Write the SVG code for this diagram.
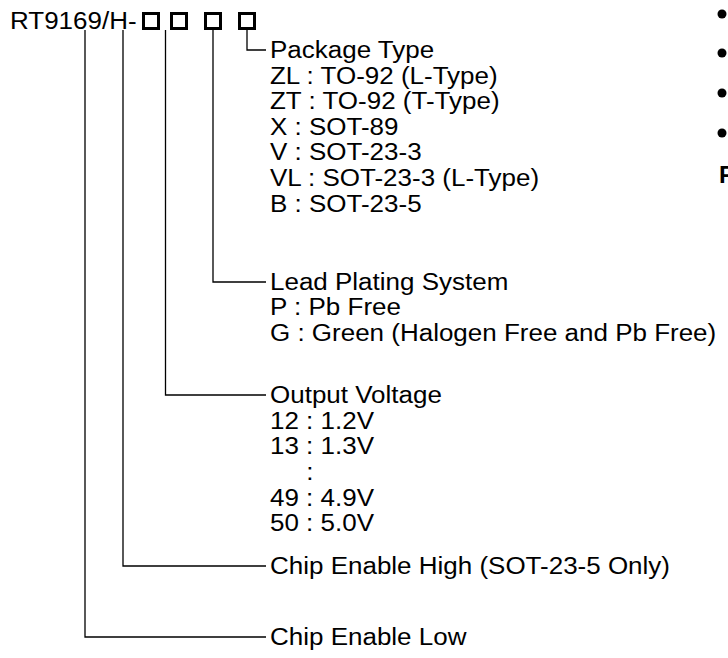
<svg xmlns="http://www.w3.org/2000/svg" width="728" height="658" viewBox="0 0 728 658">
<style>
text{font-family:"Liberation Sans",Arial,sans-serif;font-size:23px;fill:#000}
.c{fill:none;stroke:#000;stroke-width:1.3}
.b{fill:none;stroke:#000;stroke-width:3}
</style>
<rect width="728" height="658" fill="#fff"/>
<g id="part-number">
<text transform="translate(10 29) scale(1.13 1)">RT9169/H-</text>
<rect class="b" x="143.5" y="13.5" width="15" height="15"/>
<rect class="b" x="171.5" y="13.5" width="15" height="15"/>
<rect class="b" x="205.5" y="13.5" width="15" height="15"/>
<rect class="b" x="239.5" y="13.5" width="15" height="15"/>
</g>
<g id="connectors">
<path class="c" d="M85 30V637H266"/>
<path class="c" d="M123 30V566H266"/>
<path class="c" d="M165.5 30V395H266"/>
<path class="c" d="M213 30V282H266"/>
<path class="c" d="M247 30V50H266"/>
</g>
<g id="package-type" transform="translate(270 0) scale(1.13 1)">
<text x="0" y="58.5">Package Type</text>
<text x="0" y="84.5">ZL : TO-92 (L-Type)</text>
<text x="0" y="109.5">ZT : TO-92 (T-Type)</text>
<text x="0" y="135.5">X : SOT-89</text>
<text x="0" y="160.5">V : SOT-23-3</text>
<text x="0" y="186.5">VL : SOT-23-3 (L-Type)</text>
<text x="0" y="212.5">B : SOT-23-5</text>
</g>
<g id="lead-plating" transform="translate(270 0) scale(1.13 1)">
<text x="0" y="290.5">Lead Plating System</text>
<text x="0" y="315.5">P : Pb Free</text>
<text x="0" y="341.5">G : Green (Halogen Free and Pb Free)</text>
</g>
<g id="output-voltage" transform="translate(270 0) scale(1.13 1)">
<text x="0" y="403.5">Output Voltage</text>
<text x="0" y="429.5">12 : 1.2V</text>
<text x="0" y="454.5">13 : 1.3V</text>
<text x="32" y="480.5">:</text>
<text x="0" y="506.5">49 : 4.9V</text>
<text x="0" y="531.5">50 : 5.0V</text>
</g>
<g id="chip-enable-high" transform="translate(270 0) scale(1.13 1)">
<text x="0" y="574.5">Chip Enable High (SOT-23-5 Only)</text>
</g>
<g id="chip-enable-low" transform="translate(270 0) scale(1.13 1)">
<text x="0" y="645.5">Chip Enable Low</text>
</g>
<g id="right-column">
<circle cx="722" cy="14" r="4.5"/>
<circle cx="722" cy="53" r="4.5"/>
<circle cx="722" cy="93" r="4.5"/>
<circle cx="722" cy="133" r="4.5"/>
<text x="719" y="183" style="font-weight:bold;font-size:24px">F</text>
</g>
</svg>
